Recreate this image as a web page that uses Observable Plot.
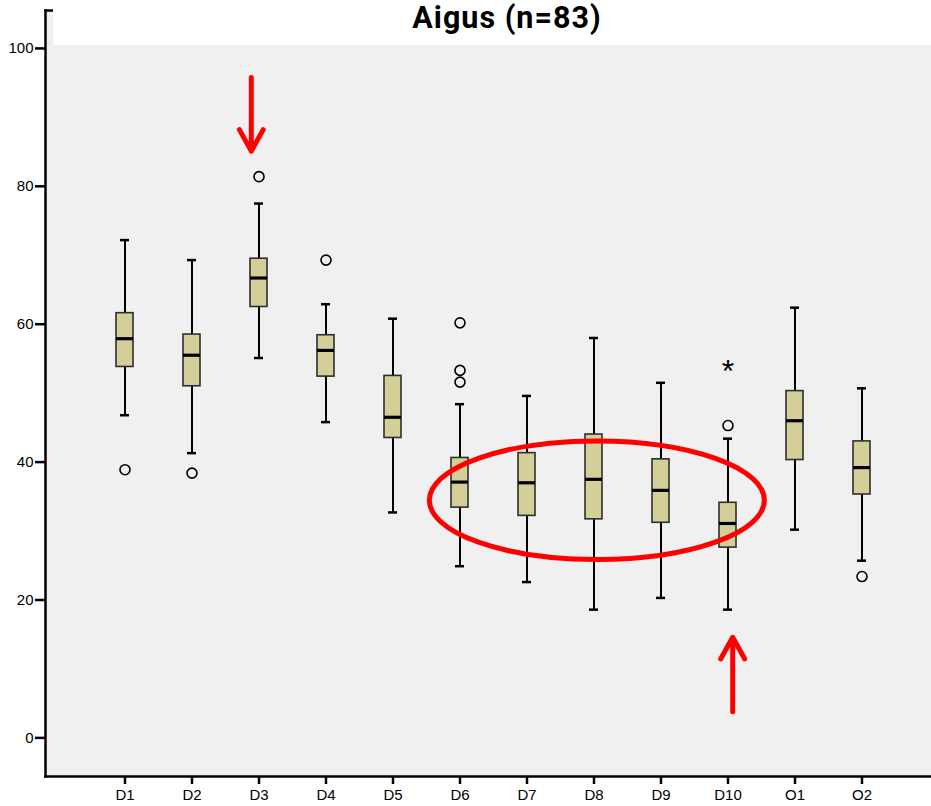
<!DOCTYPE html>
<html>
<head>
<meta charset="utf-8">
<script src="https://cdn.jsdelivr.net/npm/d3@7"></script>
<script src="https://cdn.jsdelivr.net/npm/@observablehq/plot@0.6"></script>
<style>
  body { margin: 0; background: #ffffff; }
  #wrap { position: relative; width: 931px; height: 806px; overflow: hidden; }
  #titlebox { position: absolute; left: 53px; top: 0; width: 878px; height: 45px; background: #ffffff; }
  #title { position: absolute; left: 454px; top: 0px; transform: translateX(-50%); white-space: nowrap;
           font-family: Roboto, "Open Sans", sans-serif; font-weight: 700; font-size: 30.5px; letter-spacing: 1px; color: #000; }
</style>
</head>
<body>
<div id="wrap">
  <div id="chart"></div>
  <div id="titlebox"><span id="title">Aigus (n=83)</span></div>
</div>
<script>
// ---- data ----
const categories  = ["D1","D2","D3","D4","D5","D6","D7","D8","D9","D10","O1","O2"];
const lowWhisker  = [46.8, 41.3, 55.1, 45.8, 32.7, 24.9, 22.6, 18.6, 20.3, 18.6, 30.2, 25.7];
const q1          = [53.8, 51.0, 62.5, 52.4, 43.5, 33.4, 32.2, 31.7, 31.2, 27.6, 40.3, 35.3];
const median      = [57.9, 55.5, 66.7, 56.2, 46.5, 37.1, 37.0, 37.5, 35.9, 31.1, 46.0, 39.2];
const q3          = [61.6, 58.5, 69.5, 58.4, 52.5, 40.6, 41.3, 44.0, 40.4, 34.1, 50.3, 43.0];
const highWhisker = [72.2, 69.3, 77.5, 62.9, 60.8, 48.4, 49.6, 58.0, 51.5, 43.4, 62.4, 50.7];

const outlierCategories = ["D1","D2","D3","D4","D6","D6","D6","D10","O2"];
const outlierValues     = [38.9, 38.4, 81.4, 69.3, 60.2, 53.3, 51.6, 45.3, 23.4];
const extremeCategories = ["D10"];
const extremeValues     = [53.7];

const yTicks = [0, 20, 40, 60, 80, 100];
const title = "Aigus (n=83)";

// annotations (in data units)
const arrowCategories = ["D3", "D10"];
const arrowFrom       = [95.8, 3.8];
const arrowTo         = [85.1, 14.6];
const arrowShiftPx    = [-7.7, 4.7];
const ellipseCenterCategory = "D8";
const ellipseCenterShift = 0.05;   // in category steps
const ellipseCenterValue = 34.4;
const ellipseHalfWidthSteps = 2.5;
const ellipseHalfHeightValue = 8.6;

// ---- tables ----
const boxes = categories.map((c, i) => ({
  cat: c, lo: lowWhisker[i], q1: q1[i], med: median[i], q3: q3[i], hi: highWhisker[i]
}));
const outliers = outlierCategories.map((c, i) => ({cat: c, v: outlierValues[i]}));
const extremes = extremeCategories.map((c, i) => ({cat: c, v: extremeValues[i]}));
const arrows = arrowCategories.map((c, i) => ({cat: c, from: arrowFrom[i], to: arrowTo[i], shift: arrowShiftPx[i]}));

document.getElementById("title").textContent = title;

const xRange = [89.65, 897.25];
const paddingInner = 0.747, paddingOuter = 0.3735;
const xScale = d3.scaleBand(categories, xRange).paddingInner(paddingInner).paddingOuter(paddingOuter);

const ellipseMark = (index, scales, values, dimensions) => {
  const x = scales.x, y = scales.y;
  const bw = x.bandwidth ? x.bandwidth() : xScale.bandwidth();
  const step = x.step ? x.step() : xScale.step();
  const cx = x(ellipseCenterCategory) + bw / 2 + ellipseCenterShift * step;
  const cy = y(ellipseCenterValue);
  const ry = Math.abs(y(ellipseCenterValue + ellipseHalfHeightValue) - cy);
  const rx = ellipseHalfWidthSteps * step;
  const e = d3.create("svg:ellipse")
    .attr("cx", cx).attr("cy", cy).attr("rx", rx).attr("ry", ry)
    .attr("fill", "none").attr("stroke", "#ff0000").attr("stroke-width", 5);
  return e.node();
};

const arrowMarks = arrows.map(a => Plot.arrow([a], {
  x: "cat", y1: "from", y2: "to", dx: a.shift,
  stroke: "#ff0000", strokeWidth: 5, headLength: 25, headAngle: 58
}));

const chart = Plot.plot({
  width: 931,
  height: 806,
  marginLeft: 45,
  marginRight: 0,
  marginTop: 10,
  marginBottom: 30,
  style: { fontFamily: "'Liberation Sans', Arial, sans-serif", fontSize: "15px", background: "transparent", overflow: "visible" },
  x: { type: "band", domain: categories, range: xRange, paddingInner, paddingOuter, label: null },
  y: { domain: [-5.6, 105.5], label: null },
  marks: [
    Plot.frame({ fill: "#f0f0f0", stroke: "none" }),
    Plot.frame({ anchor: "top", stroke: "#000", strokeWidth: 2.5 }),
    Plot.frame({ anchor: "left", stroke: "#000", strokeWidth: 2.5 }),
    Plot.frame({ anchor: "bottom", stroke: "#000", strokeWidth: 2.5 }),
    Plot.axisY({ ticks: yTicks, tickSize: 10, tickPadding: 2, tickFormat: d => String(d), stroke: "#000", strokeWidth: 2.5, color: "#000", fontSize: 15, label: null }),
    Plot.axisX({ tickSize: 8, tickPadding: 5, stroke: "#000", strokeWidth: 2.5, color: "#000", fontSize: 15, label: null }),
    // whiskers
    Plot.ruleX(boxes, { x: "cat", y1: "lo", y2: "hi", stroke: "#000", strokeWidth: 2 }),
    Plot.tickY(boxes, { x: "cat", y: "lo", stroke: "#000", strokeWidth: 2.5, insetLeft: 4, insetRight: 4 }),
    Plot.tickY(boxes, { x: "cat", y: "hi", stroke: "#000", strokeWidth: 2.5, insetLeft: 4, insetRight: 4 }),
    // boxes
    Plot.barY(boxes, { x: "cat", y1: "q1", y2: "q3", fill: "#d4cf99", stroke: "#2e2e2e", strokeWidth: 1.6 }),
    Plot.tickY(boxes, { x: "cat", y: "med", stroke: "#000", strokeWidth: 3.2 }),
    // outliers
    Plot.dot(outliers, { x: "cat", y: "v", r: 5, stroke: "#000", strokeWidth: 1.6, fill: "none" }),
    Plot.text(extremes, { x: "cat", y: "v", text: () => "*", fontSize: 32, dy: 4, fill: "#000" }),
    // annotations
    ellipseMark,
    ...arrowMarks
  ]
});
document.getElementById("chart").appendChild(chart);
</script>
</body>
</html>
